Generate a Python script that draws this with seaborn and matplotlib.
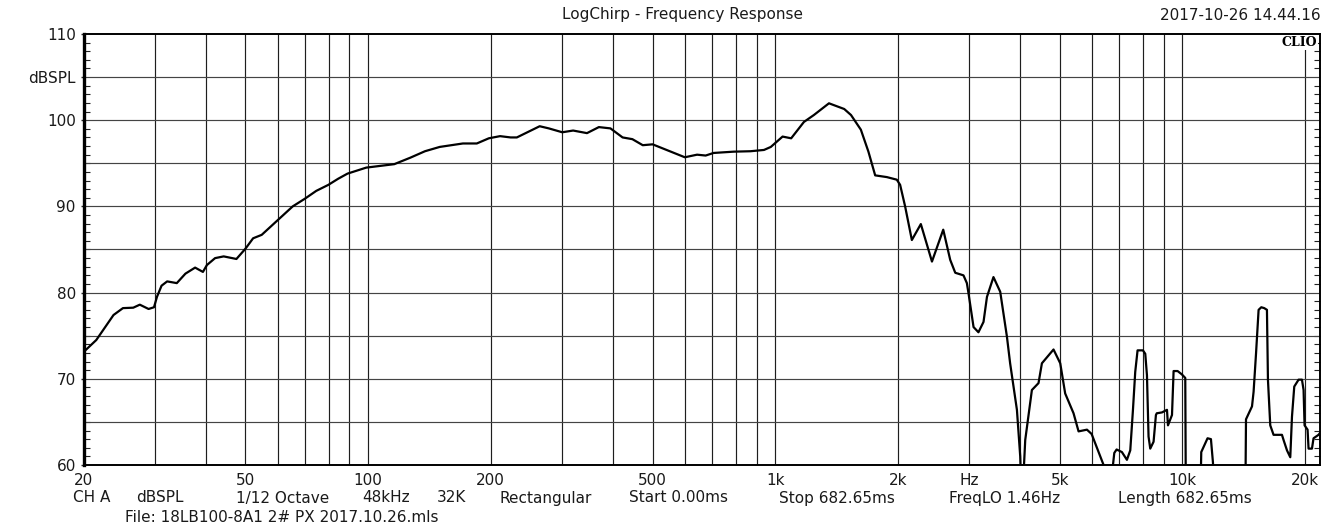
import numpy as np
import pandas as pd
import matplotlib
matplotlib.use("Agg")
import matplotlib.pyplot as plt
import seaborn as sns
from matplotlib.ticker import FixedLocator, NullLocator, MultipleLocator


# ---------------------------------------------------------------------------
# Data
# ---------------------------------------------------------------------------

freq_hz = [
    20, 21.5, 23.7, 25.0, 26.5, 27.5, 28.9, 29.8, 30.3, 31.1,
    32.1, 33.9, 35.6, 37.6, 39.3, 40.2, 42.1, 44.2, 47.5, 50,
    52.2, 54.8, 60, 65.3, 70, 74.6, 79.9, 84.4, 89, 99,
    107, 116, 127, 138, 150, 171, 185, 198, 211, 224,
    232, 245, 264, 278, 300, 319, 345, 369, 394, 422,
    446, 473, 500, 551, 600, 643, 675, 706, 791, 870,
    939, 976, 1043, 1095, 1177, 1245, 1356, 1478, 1536, 1624,
    1695, 1761, 1881, 1990, 2028, 2086, 2167, 2280, 2428, 2588,
    2692, 2770, 2902, 2958, 2986, 3072, 3158, 3250, 3314, 3438,
    3572, 3710, 3778, 3926, 4000, 4038, 4115, 4273, 4436, 4522,
    4829, 5016, 5158, 5408, 5564, 5834, 5990, 6410, 6580, 6758,
    6810, 6900, 7110, 7314, 7454, 7568, 7666, 7768, 8008, 8114,
    8192, 8266, 8346, 8504, 8618, 8660, 8918, 9174, 9226, 9438,
    9524, 9742, 9986, 10174, 10210, 10600, 11072, 11137, 11390, 11540,
    11764, 11898, 12054, 13000, 14286, 14344, 14840, 14974, 15180, 15404,
    15640, 15900, 16148, 16240, 16454, 16764, 17580, 17740, 18086, 18426,
    18604, 18846, 19312, 19686, 19866, 19978, 20320, 20434, 20830, 21018,
    21620, 21960,
]

spl_db = [
    73.1, 74.5, 77.4, 78.2, 78.25, 78.6, 78.1, 78.3, 79.5, 80.8,
    81.3, 81.1, 82.2, 82.9, 82.4, 83.2, 84.0, 84.2, 83.9, 85.1,
    86.3, 86.7, 88.4, 90.0, 90.9, 91.8, 92.5, 93.2, 93.8, 94.5,
    94.7, 94.9, 95.65, 96.4, 96.9, 97.3, 97.3, 97.9, 98.15, 98.0,
    98.0, 98.55, 99.3, 99.05, 98.6, 98.8, 98.5, 99.2, 99.05, 98.0,
    97.8, 97.1, 97.2, 96.4, 95.7, 96.0, 95.9, 96.2, 96.35, 96.4,
    96.55, 96.9, 98.1, 97.9, 99.8, 100.6, 101.96, 101.3, 100.6, 98.9,
    96.35, 93.6, 93.4, 93.1, 92.5, 90.0, 86.1, 87.95, 83.6, 87.3,
    83.8, 82.3, 82.0, 81.1, 79.9, 76.0, 75.4, 76.6, 79.5, 81.8,
    80.1, 74.9, 71.8, 66.4, 61.0, 55, 62.9, 68.7, 69.5, 71.8,
    73.4, 71.8, 68.3, 66.0, 63.9, 64.1, 63.6, 60.0, 55, 60.0,
    61.4, 61.8, 61.5, 60.6, 61.7, 66.4, 70.8, 73.3, 73.3, 72.9,
    70.4, 63.3, 61.9, 62.7, 65.8, 66.0, 66.1, 66.4, 64.6, 65.8,
    70.9, 70.9, 70.5, 70.1, 55, 55, 55, 61.5, 62.5, 63.1,
    63.0, 60.3, 55, 55, 55, 65.3, 66.8, 68.5, 72.9, 78.0,
    78.3, 78.2, 78.0, 69.9, 64.6, 63.5, 63.5, 62.9, 61.7, 60.9,
    65.6, 69.1, 69.9, 69.9, 68.7, 64.6, 64.1, 61.9, 61.9, 63.1,
    63.5, 63.9,
]

x_tick_values = [20, 50, 100, 200, 500, 1000, 2000, 3000, 5000, 10000, 20000]
x_tick_labels = ["20", "50", "100", "200", "500", "1k", "2k", "Hz", "5k", "10k", "20k"]
y_tick_values = [60, 70, 80, 90, 100, 105, 110]
y_tick_labels = ["60", "70", "80", "90", "100", "dBSPL", "110"]

title_text = "LogChirp - Frequency Response"
stamp_text = "2017-10-26 14.44.16"
info_items = ["CH A", "dBSPL", "1/12 Octave", "48kHz", "32K", "Rectangular",
              "Start 0.00ms", "Stop 682.65ms", "FreqLO 1.46Hz", "Length 682.65ms"]
file_text = "File: 18LB100-8A1 2# PX 2017.10.26.mls"

# layout (pixel centres of the info items along the bottom line)
info_x_px = [92, 160, 283, 386, 452, 546, 678, 837, 1005, 1185]

W, H = 1333, 530
FS = 11
TXT = "#1a1a1a"

sns.set_style("white")
plt.rcParams["font.family"] = ["DejaVu Sans"]

df = pd.DataFrame({"freq": freq_hz, "spl": spl_db})

fig = plt.figure(figsize=(W / 100, H / 100), dpi=100)
ax = fig.add_axes([83.5 / W, 1 - 465 / H, (1320 - 83.5) / W, (465 - 34) / H])
ax.set_xscale("log")

# grid: every 1..9 x decade vertically, every 5 dB horizontally
grid_freqs = [m * 10 ** e for e in range(1, 5) for m in range(1, 10)]
grid_freqs = [f for f in grid_freqs if 20 < f <= 20000]
for f in grid_freqs:
    ax.axvline(f, color="#1e1e1e", lw=0.85, zorder=1)
for level in range(65, 110, 5):
    ax.axhline(level, color="#444444", lw=0.85, zorder=1)

sns.lineplot(data=df, x="freq", y="spl", ax=ax, color="black", lw=1.6,
             sort=False, estimator=None, zorder=3)

ax.set_xlim(20, 21800)
ax.set_ylim(60, 110)

ax.xaxis.set_major_locator(FixedLocator(x_tick_values))
ax.set_xticklabels(x_tick_labels)
ax.xaxis.set_minor_locator(NullLocator())
ax.set_yticks(y_tick_values)
ax.set_yticklabels(y_tick_labels)
ax.yaxis.set_minor_locator(MultipleLocator(1))

ax.tick_params(axis="x", which="both", length=0, pad=5.5, labelsize=FS, labelcolor=TXT)
ax.tick_params(axis="y", which="major", direction="out", length=2.5, width=1,
               pad=3, labelsize=FS, labelcolor=TXT, left=True, right=False)
ax.tick_params(axis="y", which="minor", direction="in", length=4.5, width=0.8,
               left=True, right=True, color="#222222")

ax.set_xlabel("")
ax.set_ylabel("")

for side in ["top", "right", "bottom"]:
    ax.spines[side].set_linewidth(1.4)
    ax.spines[side].set_color("black")
ax.spines["left"].set_linewidth(2.4)
ax.spines["left"].set_color("black")

# header
fig.text(682 / W, 1 - 15 / H, title_text, ha="center", va="center",
         fontsize=FS, color=TXT)
fig.text(1321 / W, 1 - 15 / H, stamp_text, ha="right", va="center",
         fontsize=FS, color=TXT)
ax.text(0.9975, 0.995, "CLIO", transform=ax.transAxes, ha="right", va="top",
        fontsize=9, fontweight="bold", family="DejaVu Serif", color="black",
        zorder=5, bbox=dict(facecolor="white", edgecolor="none", pad=0.6))

# footer
for item, xp in zip(info_items, info_x_px):
    fig.text(xp / W, 1 - 498 / H, item, ha="center", va="center",
             fontsize=FS, color=TXT)
fig.text(282 / W, 1 - 517 / H, file_text, ha="center", va="center",
         fontsize=FS, color=TXT)

fig.savefig("out.png", dpi=100, facecolor="white")
